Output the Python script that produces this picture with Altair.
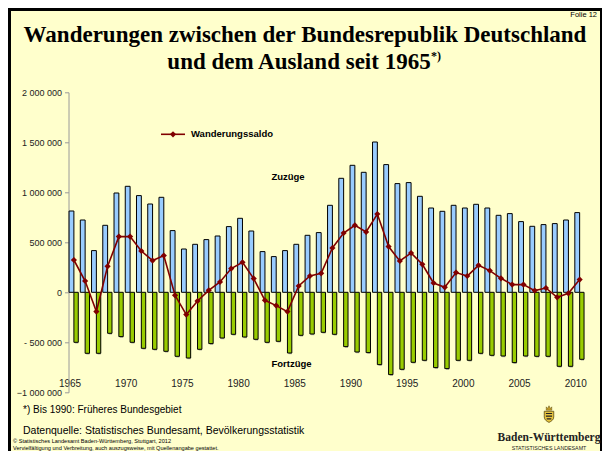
import altair as alt
import pandas as pd

# ---- data (values in thousands) ----
years = list(range(1965, 2011))
zuzuege = [813, 723, 417, 670, 993, 1060, 967, 883, 950, 617,
           433, 480, 527, 563, 657, 740, 613, 407, 357, 417,
           480, 570, 597, 870, 1140, 1270, 1200, 1503, 1277, 1087,
           1097, 960, 843, 810, 870, 843, 880, 843, 770, 787,
           707, 660, 677, 687, 723, 797]
fortzuege = [500, 610, 610, 410, 443, 500, 560, 570, 590, 640,
             657, 570, 513, 457, 420, 447, 470, 500, 490, 607,
             430, 417, 400, 420, 543, 597, 603, 723, 823, 770,
             700, 680, 753, 763, 680, 680, 610, 630, 637, 703,
             637, 640, 640, 740, 740, 670]
saldo = [323, 113, -193, 260, 557, 557, 413, 317, 367, -30,
         -223, -87, 20, 103, 237, 300, 137, -80, -133, -193,
         63, 163, 190, 443, 593, 670, 603, 783, 457, 313,
         393, 280, 93, 50, 197, 163, 270, 217, 140, 77,
         77, 17, 43, -50, -10, 127]
x_tick_years = [1965, 1970, 1975, 1980, 1985, 1990, 1995, 2000, 2005, 2010]
y_ticks = [-1000000, -500000, 0, 500000, 1000000, 1500000, 2000000]

df = pd.DataFrame({
    "Jahr": years,
    "Zuzuege": [v * 1000 for v in zuzuege],
    "Fortzuege": [v * 1000 for v in fortzuege],
    "Saldo": [v * 1000 for v in saldo],
})

SANS = "Liberation Sans"
SERIF = "Liberation Serif"
BG = "#FFFFCC"

# layout (absolute page coords of plot origin = (68.5, 92.3))
OX, OY = 68.5, 92.3
W, H = 517, 300
TOTAL_W, TOTAL_H = 594, 443
PAD = {"left": OX - 8, "top": OY - 8,
       "right": TOTAL_W - (OX - 8) - W, "bottom": TOTAL_H - (OY - 8) - H}

xs = alt.Scale(domain=[1965, 2011], nice=False, zero=False)
ys = alt.Scale(domain=[-1000000, 2000000], nice=False)

base = alt.Chart(df).transform_calculate(
    bx1="datum.Jahr + 0.05", bx2="datum.Jahr + 0.48",
    gx1="datum.Jahr + 0.48", gx2="datum.Jahr + 0.87",
    mx="datum.Jahr + 0.48", Fneg="-datum.Fortzuege",
)

y_label_expr = ("datum.value == -500000 ? '- 500 000' : "
                "replace(format(datum.value, ','), regexp(',', 'g'), ' ')")

x_axis = alt.Axis(values=x_tick_years, format="d", ticks=False, domain=False,
                  grid=False, title=None, labelPadding=-14, labelOffset=1,
                  labelFlush=False, labelOverlap=False,
                  labelFont=SANS, labelFontSize=10, labelColor="#222")
y_axis = alt.Axis(values=y_ticks, labelExpr=y_label_expr, grid=False, title=None,
                  tickSize=4, tickColor="#9a9a9a", domainColor="#9a9a9a",
                  labelFlush=False, labelOverlap=False,
                  labelFont=SANS, labelFontSize=9, labelColor="#222", labelPadding=3)

shadow_b = base.mark_bar(color="#777777", opacity=0.6, xOffset=1.2, yOffset=1.2).encode(
    x=alt.X("bx1:Q", scale=xs, axis=x_axis), x2="bx2:Q",
    y=alt.Y("Zuzuege:Q", scale=ys, axis=y_axis), y2=alt.datum(0))
shadow_g = base.mark_bar(color="#777777", opacity=0.6, xOffset=1.2, yOffset=1.2).encode(
    x=alt.X("gx1:Q", scale=xs), x2="gx2:Q",
    y=alt.Y("Fneg:Q", scale=ys), y2=alt.datum(0))
blue = base.mark_bar(color="#99CCFF", stroke="black", strokeWidth=1).encode(
    x=alt.X("bx1:Q", scale=xs), x2="bx2:Q",
    y=alt.Y("Zuzuege:Q", scale=ys), y2=alt.datum(0))
green = base.mark_bar(color="#99CC00", stroke="black", strokeWidth=1).encode(
    x=alt.X("gx1:Q", scale=xs), x2="gx2:Q",
    y=alt.Y("Fneg:Q", scale=ys), y2=alt.datum(0))
line = base.mark_line(color="#800000", strokeWidth=1.6).encode(
    x=alt.X("mx:Q", scale=xs), y=alt.Y("Saldo:Q", scale=ys))
pts = base.mark_point(shape="diamond", filled=True, size=38, color="#800000", opacity=1).encode(
    x=alt.X("mx:Q", scale=xs), y=alt.Y("Saldo:Q", scale=ys))

one = alt.Data(values=[{"k": 1}])


def txt(text, ax, ay, size, font=SANS, weight="normal", align="left",
        baseline="alphabetic", color="#000000"):
    return alt.Chart(one).mark_text(
        fontSize=size, font=font, fontWeight=weight, align=align,
        baseline=baseline, color=color
    ).encode(x=alt.value(ax - OX), y=alt.value(ay - OY), text=alt.value(text))


# legend (line + diamond + label)
leg_line = alt.Chart(one).mark_rule(color="#800000", strokeWidth=1.6).encode(
    x=alt.value(161 - OX), x2=alt.value(185 - OX), y=alt.value(134.3 - OY))
leg_pt = alt.Chart(one).mark_point(shape="diamond", filled=True, size=38,
                                   color="#800000", opacity=1).encode(
    x=alt.value(173 - OX), y=alt.value(134.3 - OY))

# frame around the slide (left, top, right)
L = -(OX - 8) + 1.5
R = TOTAL_W - (OX - 8) - 1.5
T = -(OY - 8) + 1.5
B = TOTAL_H - (OY - 8)
frame_l = alt.Chart(one).mark_rule(color="black", strokeWidth=3).encode(
    x=alt.value(L), y=alt.value(T - 1.5), y2=alt.value(B))
frame_t = alt.Chart(one).mark_rule(color="black", strokeWidth=3).encode(
    x=alt.value(L - 1.5), x2=alt.value(R + 1.5), y=alt.value(T))
frame_r = alt.Chart(one).mark_rule(color="black", strokeWidth=2).encode(
    x=alt.value(R + 0.5), y=alt.value(T - 1.5), y2=alt.value(B))

# small coat of arms
shield = alt.Chart(one).mark_point(
    shape="M-1,-1L1,-1L1,0.2C1,0.8 0.5,1.1 0,1.35C-0.5,1.1 -1,0.8 -1,0.2Z",
    filled=True, fill="#E8C640", stroke="#5a4a10", strokeWidth=0.8, size=90, opacity=1
).encode(x=alt.value(549 - OX), y=alt.value(416 - OY))
crown = alt.Chart(one).mark_point(
    shape="M-1,0.6L-1,-0.6L-0.5,0L0,-1L0.5,0L1,-0.6L1,0.6Z",
    filled=True, fill="#C9A227", stroke="#5a4a10", strokeWidth=0.5, size=30, opacity=1
).encode(x=alt.value(549 - OX), y=alt.value(408.5 - OY))
lions = alt.Chart(one).mark_point(
    shape="M-0.8,-0.8L0.8,-0.8L0.8,-0.5L-0.8,-0.5Z M-0.8,-0.1L0.8,-0.1L0.8,0.2L-0.8,0.2Z M-0.6,0.6L0.6,0.6L0.6,0.9L-0.6,0.9Z",
    filled=True, fill="#222222", size=60, opacity=1
).encode(x=alt.value(549 - OX), y=alt.value(416 - OY))

texts = [
    txt("Folie 12", 597, 17, 7.5, align="right"),
    txt("Wanderungen zwischen der Bundesrepublik Deutschland", 305, 42, 23,
        font=SERIF, weight="bold", align="center"),
    txt("und dem Ausland seit 1965", 299, 69, 23, font=SERIF, weight="bold",
        align="center"),
    txt("*)", 431, 60, 12, font=SERIF, weight="bold"),
    txt("Wanderungssaldo", 191, 134.3, 9.5, weight="bold", baseline="middle"),
    txt("Zuzüge", 288, 176.7, 9.5, weight="bold", align="center", baseline="middle"),
    txt("Fortzüge", 291.5, 364.3, 9.5, weight="bold", align="center", baseline="middle"),
    txt("*) Bis 1990: Früheres Bundesgebiet", 23, 413, 10),
    txt("Datenquelle: Statistisches Bundesamt, Bevölkerungsstatistik", 23, 434, 10.5),
    txt("© Statistisches Landesamt Baden-Württemberg, Stuttgart, 2012", 13, 443, 5.6),
    txt("Vervielfältigung und Verbreitung, auch auszugsweise, mit Quellenangabe gestattet.",
        13, 450, 5.6),
    txt("Baden-Württemberg", 549, 441, 11.5, font=SERIF, weight="bold", align="center",
        color="#222222"),
    txt("STATISTISCHES LANDESAMT", 549, 450, 5.3, align="center", color="#222222"),
]

chart = alt.layer(
    shadow_b, shadow_g, blue, green, line, pts,
    leg_line, leg_pt, shield, crown, lions, frame_l, frame_t, frame_r, *texts
).properties(
    width=W, height=H, padding=PAD,
    autosize=alt.AutoSizeParams(type="none"),
).configure(background=BG).configure_view(stroke=None)

chart.save("out.html", embed_options={"renderer": "svg", "actions": False})
